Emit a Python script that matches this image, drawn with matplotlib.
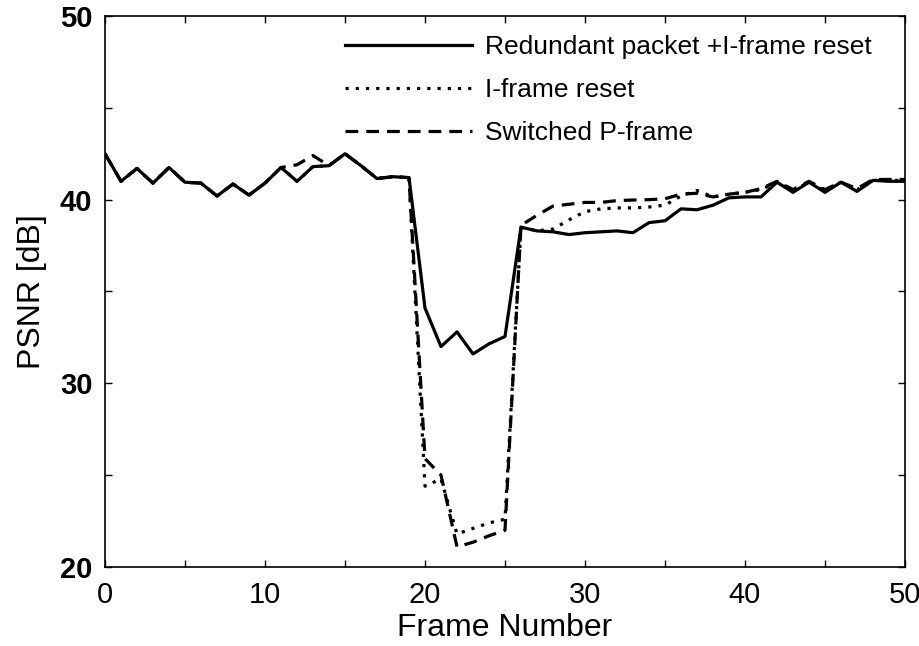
import numpy as np
import matplotlib.pyplot as plt

plt.rcParams['font.family'] = ['Liberation Sans', 'DejaVu Sans']

frames = np.arange(0, 51)

# PSNR per frame [dB]
redundant_reset = [42.5, 41.0, 41.7, 40.9, 41.75, 40.95, 40.9, 40.2, 40.85, 40.25,
                   40.9, 41.75, 41.0, 41.8, 41.85, 42.5, 41.85, 41.15, 41.25, 41.2,
                   34.1, 32.0, 32.8, 31.6, 32.15, 32.55, 38.5, 38.3, 38.25, 38.1,
                   38.2, 38.25, 38.3, 38.2, 38.75, 38.85, 39.5, 39.45, 39.7, 40.1,
                   40.15, 40.15, 40.95, 40.4, 40.95, 40.4, 40.95, 40.45, 41.05, 41.0,
                   41.0]
iframe_reset = [42.5, 41.0, 41.7, 40.9, 41.75, 40.95, 40.9, 40.2, 40.85, 40.25,
                40.9, 41.75, 41.0, 41.8, 41.85, 42.5, 41.85, 41.15, 41.25, 41.2,
                24.4, 24.8, 21.8, 22.1, 22.4, 22.6, 38.5, 38.3, 38.4, 38.9,
                39.35, 39.5, 39.55, 39.55, 39.6, 39.7, 40.2, 40.5, 40.15, 40.3,
                40.4, 40.55, 40.95, 40.5, 40.95, 40.5, 40.95, 40.55, 41.05, 41.05,
                41.05]
switched_p = [42.5, 41.0, 41.7, 40.9, 41.75, 40.95, 40.9, 40.2, 40.85, 40.25,
              40.9, 41.75, 41.9, 42.4, 41.85, 42.5, 41.85, 41.15, 41.25, 41.2,
              25.9, 25.0, 21.1, 21.35, 21.7, 22.0, 38.6, 39.15, 39.65, 39.75,
              39.85, 39.85, 39.95, 39.98, 40.0, 40.05, 40.3, 40.35, 40.15, 40.3,
              40.4, 40.6, 41.0, 40.55, 41.0, 40.55, 40.95, 40.6, 41.1, 41.1,
              41.1]

x_ticks = np.arange(0, 51, 5)
y_ticks = np.arange(20, 51, 5)

fig = plt.figure(figsize=(9.2, 6.46), dpi=100)
ax = fig.add_axes([105 / 920, 1 - 567 / 646, 800 / 920, 551 / 646])

ax.plot(frames, redundant_reset, color='black', lw=2.3, ls='-',
        label='Redundant packet +I-frame reset')
ax.plot(frames, iframe_reset, color='black', lw=2.3, ls=(0, (1, 2.2)),
        label='I-frame reset')
ax.plot(frames, switched_p, color='black', lw=2.3, ls=(0, (4, 2.5)),
        label='Switched P-frame')

ax.set_xlim(0, 50)
ax.set_ylim(20, 50)
ax.set_xticks(x_ticks)
ax.set_xticklabels([str(t) if t % 10 == 0 else '' for t in x_ticks], fontsize=21)
ax.set_yticks(y_ticks)
ax.set_yticklabels([str(t) if t % 10 == 0 else '' for t in y_ticks],
                   fontsize=21, fontweight='bold')
ax.tick_params(direction='in', length=5, width=1, top=True, right=True)
ax.tick_params(axis='x', pad=10)
ax.tick_params(axis='y', pad=9)
for sp in ax.spines.values():
    sp.set_linewidth(1.2)

ax.set_xlabel('Frame Number', fontsize=23, labelpad=3)
ax.set_ylabel('PSNR [dB]', fontsize=23, labelpad=9)

ax.legend(loc='upper left', bbox_to_anchor=(345 / 920, 1 - 35 / 646),
          bbox_transform=fig.transFigure, frameon=False, fontsize=19,
          handlelength=4.8, handletextpad=0.5, labelspacing=0.72,
          borderpad=0, borderaxespad=0)

fig.savefig('out.png', dpi=100)
